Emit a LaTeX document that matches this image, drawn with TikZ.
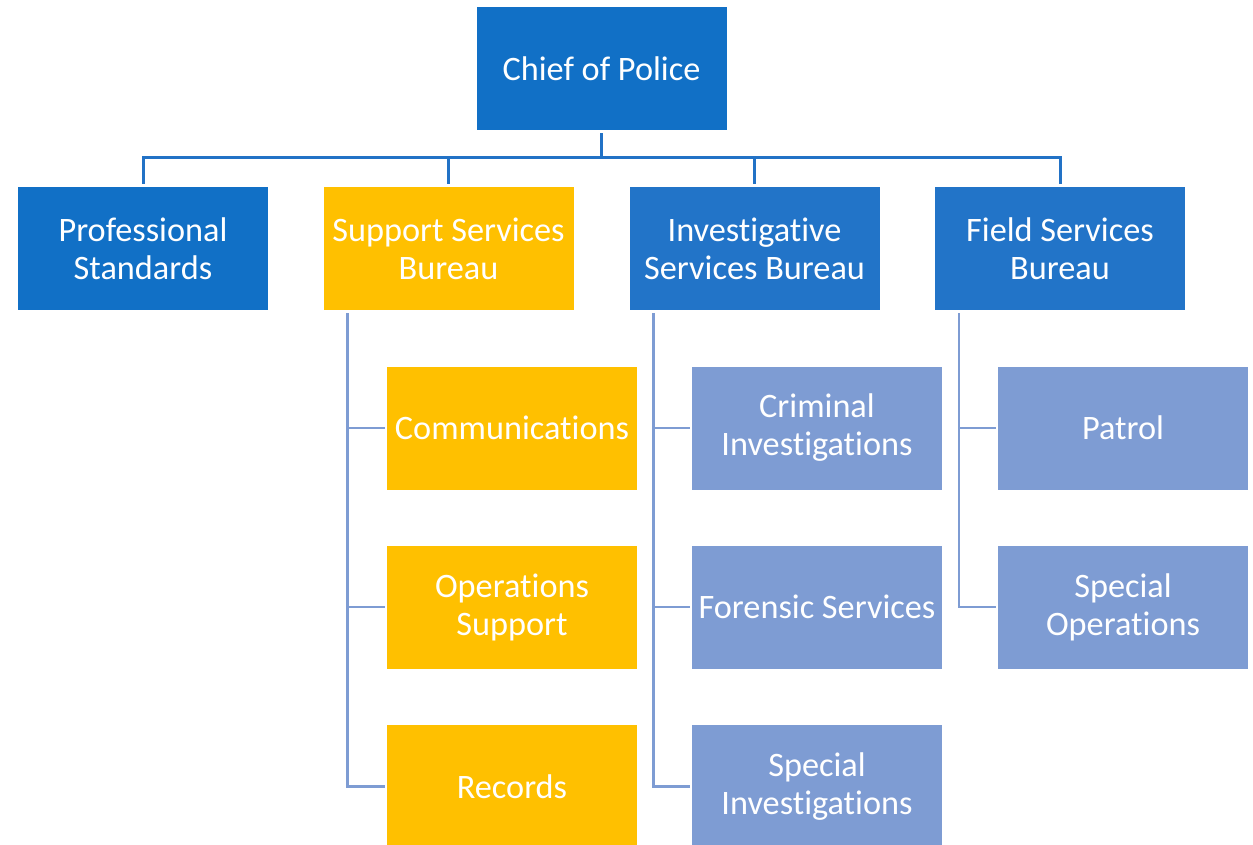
\documentclass[tikz,border=0pt]{standalone}
\usepackage{fontspec}
\setmainfont{Carlito}[Ligatures={NoCommon,NoContextual}]
\definecolor{chiefblue}{HTML}{1170C6}
\definecolor{midblue}{HTML}{2274C8}
\definecolor{gold}{HTML}{FFC000}
\definecolor{lightblue}{HTML}{7E9CD3}
\definecolor{topline}{HTML}{2272C6}
\definecolor{subline}{HTML}{7E9CD3}
\begin{document}
\begin{tikzpicture}[x=0.75pt,y=-0.75pt,
  box/.style={rectangle, inner sep=0pt, minimum width=187.5pt, minimum height=92.25pt,
    text=white, align=center, font=\fontsize{25.7pt}{28.5pt}\selectfont},
  topbox/.style={box, fill=chiefblue},
  bluebox/.style={box, fill=midblue},
  goldbox/.style={box, fill=gold},
  lightbox/.style={box, fill=lightblue},
  topconn/.style={draw=topline, line width=2.25pt},
  subconn/.style={draw=subline, line width=1.8pt}
]
\useasboundingbox (0,0) rectangle (1253,845);
\clip (0,0) rectangle (1253,845);

\node[topbox] (chief) at (601.5,69) {Chief of Police};

\node[topbox]  (prof) at (143,248.5) {Professional\\Standards};
\node[goldbox] (supp) at (448.5,248.5) {Support Services\\Bureau};
\node[bluebox] (inv)  at (754.5,248.5) {Investigative\\Services Bureau};
\node[bluebox] (field) at (1060,248.5) {Field Services\\Bureau};

\node[goldbox] (comm) at (512,428) {Communications};
\node[goldbox] (ops)  at (512,607) {Operations\\Support};
\node[goldbox] (rec)  at (512,786.5) {Records};

\node[lightbox] (crim) at (817,428) {Criminal\\Investigations};
\node[lightbox] (fors) at (817,607) {Forensic Services};
\node[lightbox] (spinv) at (817,786.5) {Special\\Investigations};

\node[lightbox] (patrol) at (1123,428) {Patrol};
\node[lightbox] (spops)  at (1123,607) {Special\\Operations};

% top connectors
\coordinate (bar) at (601.5,158);
\draw[topconn, shorten <=2pt] (chief.south) -- (bar);
\draw[topconn, shorten >=2pt] (bar) -| (prof.north);
\draw[topconn, shorten >=2pt] (bar) -| (supp.north);
\draw[topconn, shorten >=2pt] (bar) -| (inv.north);
\draw[topconn, shorten >=2pt] (bar) -| (field.north);

% sub connectors
\coordinate (sT) at (347.5,313);
\coordinate (iT) at (653.5,313);
\coordinate (fT) at (959,313);
\draw[subconn, shorten >=1.5pt] (sT) |- (comm.west);
\draw[subconn, shorten >=1.5pt] (sT) |- (ops.west);
\draw[subconn, shorten >=1.5pt] (sT) |- (rec.west);
\draw[subconn, shorten >=1.5pt] (iT) |- (crim.west);
\draw[subconn, shorten >=1.5pt] (iT) |- (fors.west);
\draw[subconn, shorten >=1.5pt] (iT) |- (spinv.west);
\draw[subconn, shorten >=1.5pt] (fT) |- (patrol.west);
\draw[subconn, shorten >=1.5pt] (fT) |- (spops.west);
\end{tikzpicture}
\end{document}
